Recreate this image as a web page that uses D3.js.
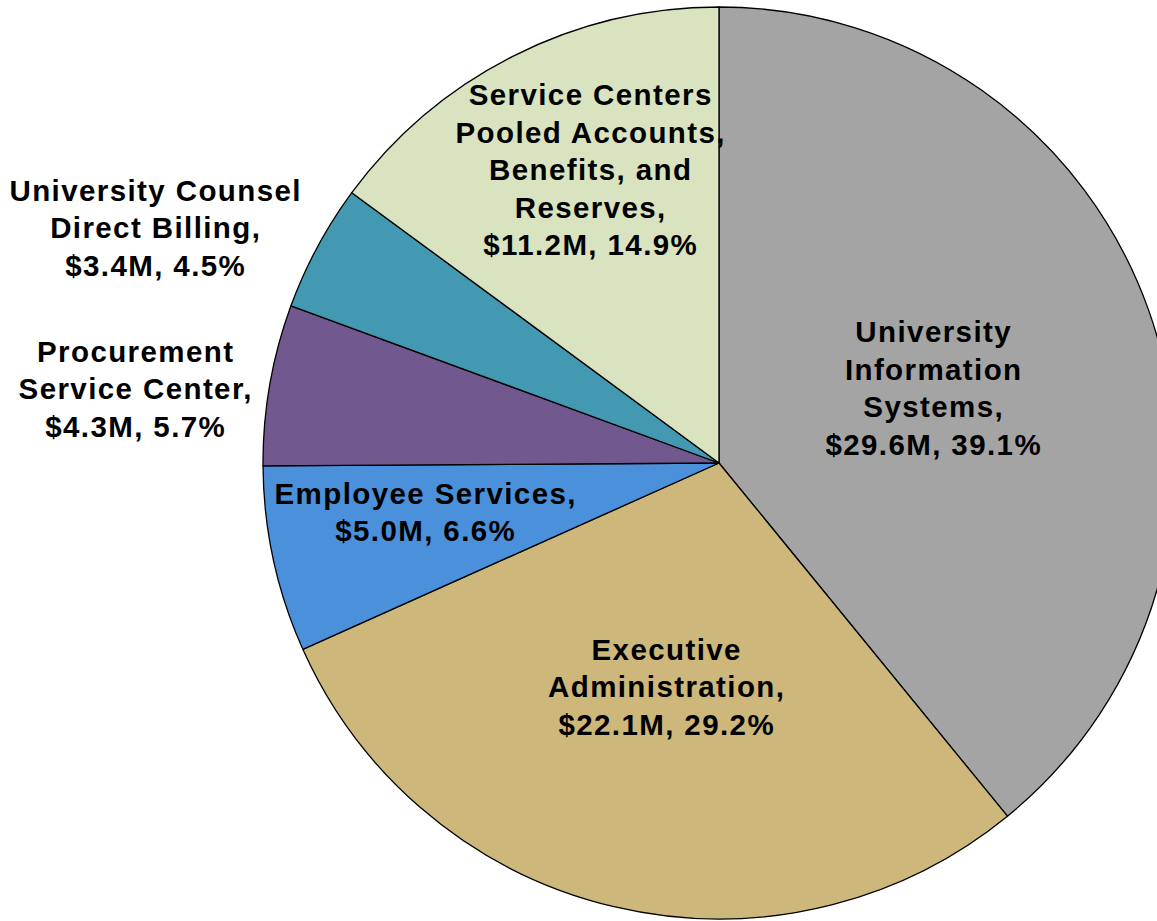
<!DOCTYPE html>
<html>
<head>
<meta charset="utf-8">
<script src="https://cdn.jsdelivr.net/npm/d3@7"></script>
<style>
  html, body { margin: 0; padding: 0; background: #ffffff; }
  svg { display: block; }
  text { font-family: "Helvetica Neue", "Liberation Sans", Arial, sans-serif; font-weight: bold; fill: #000; }
</style>
</head>
<body>
<div id="chart"></div>
<script>
// Budget categories, clockwise from 12 o'clock
const categories = [
  "University Information Systems",
  "Executive Administration",
  "Employee Services",
  "Procurement Service Center",
  "University Counsel Direct Billing",
  "Service Centers Pooled Accounts, Benefits, and Reserves"
];
const amountsM = [29.6, 22.1, 5.0, 4.3, 3.4, 11.2];
const percents = [39.1, 29.2, 6.6, 5.7, 4.5, 14.9];

// Label text broken into lines (last line holds amount and share)
const labelLines = [
  ["University", "Information", "Systems,"],
  ["Executive", "Administration,"],
  ["Employee Services,"],
  ["Procurement", "Service Center,"],
  ["University Counsel", "Direct Billing,"],
  ["Service Centers", "Pooled Accounts,", "Benefits, and", "Reserves,"]
];

const sliceColors = ["#a3a4a3", "#cdb77b", "#4b90da", "#71588e", "#4299b1", "#d9e3bf"];

// Layout
const W = 1157, H = 921;
const cx = 719, cy = 463, R = 456;
const lineH = 37.5;
const fontSize = 29.5;
const tracking = 1.4;
// Label block centers (x, y of block middle)
const labelCenters = [
  [933, 388], [666, 687], [425, 512], [135, 389], [155, 228], [590, 170]
];

const svg = d3.select("#chart").append("svg")
  .attr("width", W).attr("height", H);

const pie = d3.pie().sort(null).value(d => d.pct);
const arc = d3.arc().innerRadius(0).outerRadius(R);

const data = categories.map((c, i) => ({
  name: c, amount: amountsM[i], pct: percents[i], color: sliceColors[i],
  lines: labelLines[i].concat([`$${amountsM[i].toFixed(1)}M, ${percents[i].toFixed(1)}%`])
}));

const g = svg.append("g").attr("transform", `translate(${cx},${cy})`);
g.selectAll("path")
  .data(pie(data))
  .join("path")
  .attr("d", arc)
  .attr("fill", d => d.data.color)
  .attr("stroke", "#000")
  .attr("stroke-width", 1.3)
  .attr("stroke-linejoin", "round");

const labels = svg.append("g").selectAll("text")
  .data(data)
  .join("text")
  .attr("text-anchor", "middle")
  .attr("font-size", fontSize)
  .attr("letter-spacing", tracking)
  .attr("x", (d, i) => labelCenters[i][0])
  .attr("y", (d, i) => labelCenters[i][1] - (d.lines.length - 1) * lineH / 2);

labels.each(function(d, i) {
  const t = d3.select(this);
  d.lines.forEach((ln, j) => {
    t.append("tspan")
      .attr("x", labelCenters[i][0] + tracking / 2)
      .attr("dy", j === 0 ? "0.35em" : lineH)
      .text(ln);
  });
});
</script>
</body>
</html>
